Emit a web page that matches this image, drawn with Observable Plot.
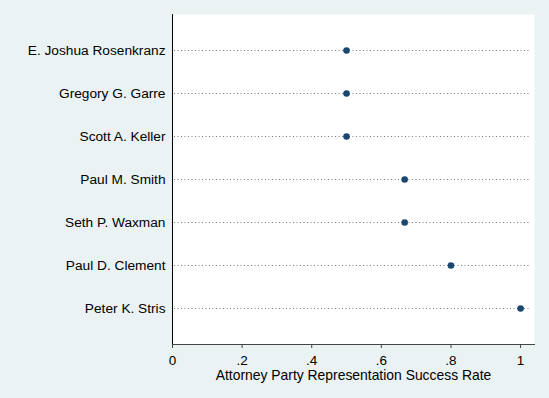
<!DOCTYPE html>
<html>
<head>
<meta charset="utf-8">
<script src="https://cdn.jsdelivr.net/npm/d3@7"></script>
<script src="https://cdn.jsdelivr.net/npm/@observablehq/plot@0.6"></script>
<style>
  html, body { margin: 0; padding: 0; background: #eaf2f3; }
  svg { display: block; }
</style>
</head>
<body>
<div id="chart"></div>
<script>
const attorneys = ["E. Joshua Rosenkranz", "Gregory G. Garre", "Scott A. Keller", "Paul M. Smith", "Seth P. Waxman", "Paul D. Clement", "Peter K. Stris"];
const successRate = [0.5, 0.5, 0.5, 0.667, 0.667, 0.8, 1.0];
const xTicks = [0, 0.2, 0.4, 0.6, 0.8, 1];
const xTickLabels = ["0", ".2", ".4", ".6", ".8", "1"];
const xTitle = "Attorney Party Representation Success Rate";

const data = attorneys.map((name, i) => ({name, rate: successRate[i]}));

const chart = Plot.plot({
  width: 549,
  height: 398,
  marginLeft: 172,
  marginRight: 15,
  marginTop: 14,
  marginBottom: 54,
  style: {background: "#eaf2f3", fontFamily: "Arial, 'Liberation Sans', sans-serif", color: "#000"},
  x: {domain: [0, 1.04]},
  y: {type: "point", domain: attorneys, padding: 0.81},
  marks: [
    Plot.frame({fill: "white", stroke: null}),
    Plot.ruleY(attorneys, {y: d => d, insetLeft: 2, insetRight: 3, stroke: "#7a7a7a", strokeWidth: 1, strokeDasharray: "1,2.5"}),
    Plot.frame({anchor: "bottom", stroke: "#444", strokeWidth: 1}),
    Plot.ruleX([0], {stroke: "#000", strokeWidth: 1}),
    Plot.axisX({ticks: xTicks, tickFormat: (d, i) => xTickLabels[i], tickSize: 4, tickPadding: 7, stroke: "#444", fontSize: 13.5, label: null}),
    Plot.axisY({tickSize: 0, tickPadding: 7, fontSize: 13.7, label: null}),
    Plot.text([xTitle], {frameAnchor: "bottom", dy: 31, fontSize: 13.9, lineAnchor: "middle", fill: "#000"}),
    Plot.dot(data, {x: "rate", y: "name", r: 3.3, fill: "#1a476f", stroke: null})
  ]
});
document.getElementById("chart").appendChild(chart);
</script>
</body>
</html>
